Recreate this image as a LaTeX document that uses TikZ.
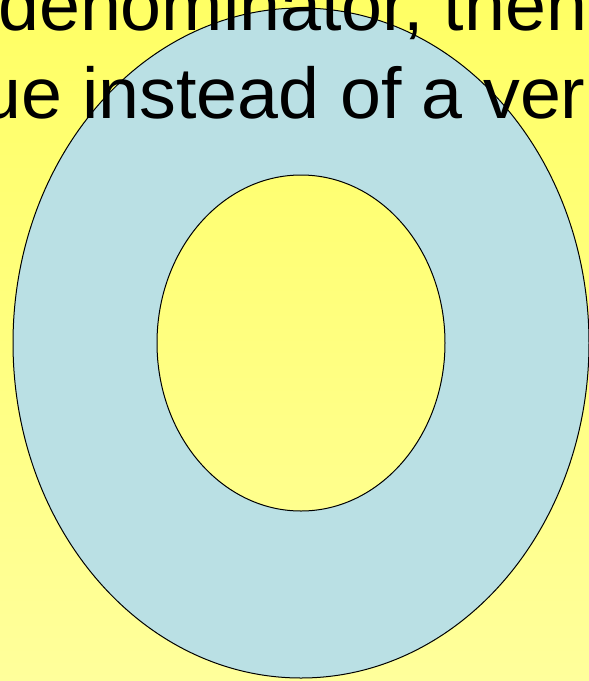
\documentclass[tikz,border=0pt]{standalone}
\usepackage{fontspec}
\setmainfont[FakeStretch=1.022]{Liberation Sans}
\usetikzlibrary{positioning}
\definecolor{slideTop}{RGB}{255,255,100}
\definecolor{slideBottom}{RGB}{255,255,155}
\definecolor{ringBlue}{RGB}{186,224,228}
\tikzstyle{slidetext} = [anchor=base west, inner sep=0pt, font=\fontsize{72}{86}\selectfont]
\tikzstyle{ring} = [draw=black, line width=1pt, fill=ringBlue, even odd rule]

\begin{document}
\begin{tikzpicture}[x=1pt, y=-1pt]

\useasboundingbox (0,0) rectangle (589,681);
\shade [top color=slideTop, bottom color=slideBottom] (0,0) rectangle (589,681);

\coordinate (centre) at (301,343);
\draw [ring] (centre) ellipse [x radius=288, y radius=335]
             (centre) ellipse [x radius=144, y radius=168];

\begin{scope}
\clip (0,0) rectangle (589,681);
\node [slidetext] (line1) at (-2,30) {denominator, then};
\node [slidetext] (line2) at (-20,118) {ue instead of a ver};
\end{scope}

\end{tikzpicture}
\end{document}
